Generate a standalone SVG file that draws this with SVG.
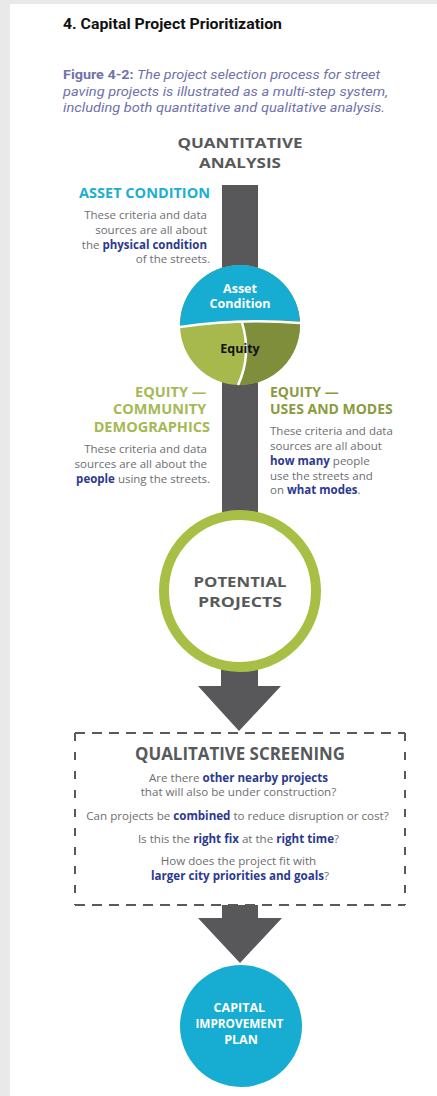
<svg xmlns="http://www.w3.org/2000/svg" width="437" height="1096" viewBox="0 0 437 1096">
<style>
.bg{fill:#e9e9e9}
.bar{fill:#58585a}
.h{font-family:"Open Sans","Noto Sans",sans-serif;font-weight:bold}
.b{font-family:"Open Sans","Noto Sans",sans-serif;font-size:11.5px;fill:#6d6e71}
.nv{fill:#2b3990;font-weight:bold}
.gray{fill:#58595b}
.dash{stroke:#58595b;stroke-width:2;fill:none}
</style>
<defs>
<clipPath id="cc"><circle cx="240" cy="325" r="60"/></clipPath>
</defs>
<rect x="0" y="0" width="437" height="1096" class="bg"/>
<rect x="10" y="4" width="427" height="1092" fill="#ffffff"/>

<g id="title">
<text x="63" y="29" font-family="Roboto,'Liberation Sans',sans-serif" font-weight="bold" font-size="14" fill="#111" textLength="219" lengthAdjust="spacingAndGlyphs">4. Capital Project Prioritization</text>
<text font-family="Roboto,'Liberation Sans',sans-serif" font-size="13" fill="#7072aa" font-style="italic">
<tspan x="63" y="79" textLength="317" lengthAdjust="spacingAndGlyphs"><tspan font-weight="bold" font-style="normal">Figure 4-2:</tspan> The project selection process for street</tspan>
<tspan x="63" y="95.5" textLength="325" lengthAdjust="spacingAndGlyphs">paving projects is illustrated as a multi-step system,</tspan>
<tspan x="63" y="112" textLength="322" lengthAdjust="spacingAndGlyphs">including both quantitative and qualitative analysis.</tspan>
</text>
</g>

<g id="connectors">
<rect x="222" y="185" width="36" height="420" class="bar"/>
<polygon points="221,660 258,660 258,686 281,686 239,731 198,686 221,686" class="bar"/>
<polygon points="222,905 258,905 258,918 282,918 240,963 198,918 222,918" class="bar"/>
</g>

<g id="quantitative">
<text x="240" y="147.5" text-anchor="middle" class="h gray" font-size="14.5" textLength="125" lengthAdjust="spacingAndGlyphs">QUANTITATIVE</text>
<text x="240" y="167.5" text-anchor="middle" class="h gray" font-size="14.5" textLength="82" lengthAdjust="spacingAndGlyphs">ANALYSIS</text>
</g>

<g id="asset-condition-text">
<text x="210" y="198" text-anchor="end" class="h" font-size="14.5" fill="#1daed3">ASSET CONDITION</text>
<text class="b" text-anchor="end">
<tspan x="210" y="219">These criteria and data</tspan>
<tspan x="210" y="234">sources are all about</tspan>
<tspan x="210" y="249">the <tspan class="nv">physical condition</tspan></tspan>
<tspan x="210" y="263">of the streets.</tspan>
</text>
</g>

<g id="asset-equity-circle">
<g clip-path="url(#cc)">
<rect x="175" y="260" width="130" height="130" fill="#a7b94c"/>
<path d="M242,300 L242,322 Q252,355 238,390 L310,390 L310,300 Z" fill="#7e8e3b"/>
<path d="M170,328 Q240,316 310,322 L310,255 L170,255 Z" fill="#17acd1"/>
</g>
<path d="M180,327 Q240,318 300,323" stroke="#fff" stroke-width="2.5" fill="none"/>
<path d="M242,322.5 Q252,355 238,385" stroke="#fff" stroke-width="2.5" fill="none"/>
<text x="240" y="293" text-anchor="middle" class="h" font-size="12.5" fill="#fff">Asset</text>
<text x="240" y="308" text-anchor="middle" class="h" font-size="12.5" fill="#fff">Condition</text>
<text x="240" y="353" text-anchor="middle" class="h" font-size="12.5" fill="#111">Equity</text>
</g>

<g id="equity-community">
<text text-anchor="end" class="h" font-size="14.5" fill="#a5b954">
<tspan x="210" y="397">EQUITY —</tspan>
<tspan x="210" y="414">COMMUNITY</tspan>
<tspan x="210" y="432">DEMOGRAPHICS</tspan>
</text>
<text class="b" text-anchor="end">
<tspan x="210" y="453">These criteria and data</tspan>
<tspan x="210" y="468">sources are all about the</tspan>
<tspan x="210" y="483"><tspan class="nv">people</tspan> using the streets.</tspan>
</text>
</g>

<g id="equity-uses">
<text class="h" font-size="14" fill="#8a9b40">
<tspan x="270" y="397">EQUITY —</tspan>
<tspan x="270" y="414">USES AND MODES</tspan>
</text>
<text class="b">
<tspan x="270" y="435">These criteria and data</tspan>
<tspan x="270" y="450">sources are all about</tspan>
<tspan x="270" y="465"><tspan class="nv">how many</tspan> people</tspan>
<tspan x="270" y="480">use the streets and</tspan>
<tspan x="270" y="494">on <tspan class="nv">what modes</tspan>.</tspan>
</text>
</g>

<g id="potential-projects">
<circle cx="240" cy="591" r="76" fill="#fff" stroke="#a8bf45" stroke-width="10"/>
<text x="240" y="586.5" text-anchor="middle" class="h gray" font-size="14.5" textLength="93" lengthAdjust="spacingAndGlyphs">POTENTIAL</text>
<text x="240" y="606.5" text-anchor="middle" class="h gray" font-size="14.5" textLength="84" lengthAdjust="spacingAndGlyphs">PROJECTS</text>
</g>

<g id="qualitative-screening">
<line x1="75" y1="733" x2="405" y2="733" class="dash" stroke-dasharray="10 7"/>
<line x1="75" y1="905" x2="405" y2="905" class="dash" stroke-dasharray="10 7"/>
<line x1="75" y1="733" x2="75" y2="905" class="dash" stroke-dasharray="8 11"/>
<line x1="405" y1="733" x2="405" y2="905" class="dash" stroke-dasharray="8 11"/>
<text x="240" y="760" text-anchor="middle" class="h gray" font-size="17.5" textLength="210" lengthAdjust="spacingAndGlyphs">QUALITATIVE SCREENING</text>
<text class="b" text-anchor="middle" style="font-size:11.6px">
<tspan x="240" y="782">Are there <tspan class="nv">other nearby projects</tspan></tspan>
<tspan x="240" y="796">that will also be under construction?</tspan>
<tspan x="239" y="820">Can projects be <tspan class="nv">combined</tspan> to reduce disruption or cost?</tspan>
<tspan x="240" y="843">Is this the <tspan class="nv">right fix</tspan> at the <tspan class="nv">right time</tspan>?</tspan>
<tspan x="240" y="865">How does the project fit with</tspan>
<tspan x="240" y="880"><tspan class="nv">larger city priorities and goals</tspan>?</tspan>
</text>
</g>

<g id="capital-improvement-plan">
<circle cx="241" cy="1026" r="61" fill="#17acd1"/>
<text text-anchor="middle" class="h" font-size="12.5" fill="#fff">
<tspan x="241" y="1011.5">CAPITAL</tspan>
<tspan x="241" y="1027.5" textLength="88" lengthAdjust="spacingAndGlyphs">IMPROVEMENT</tspan>
<tspan x="241" y="1043.5">PLAN</tspan>
</text>
</g>
</svg>
